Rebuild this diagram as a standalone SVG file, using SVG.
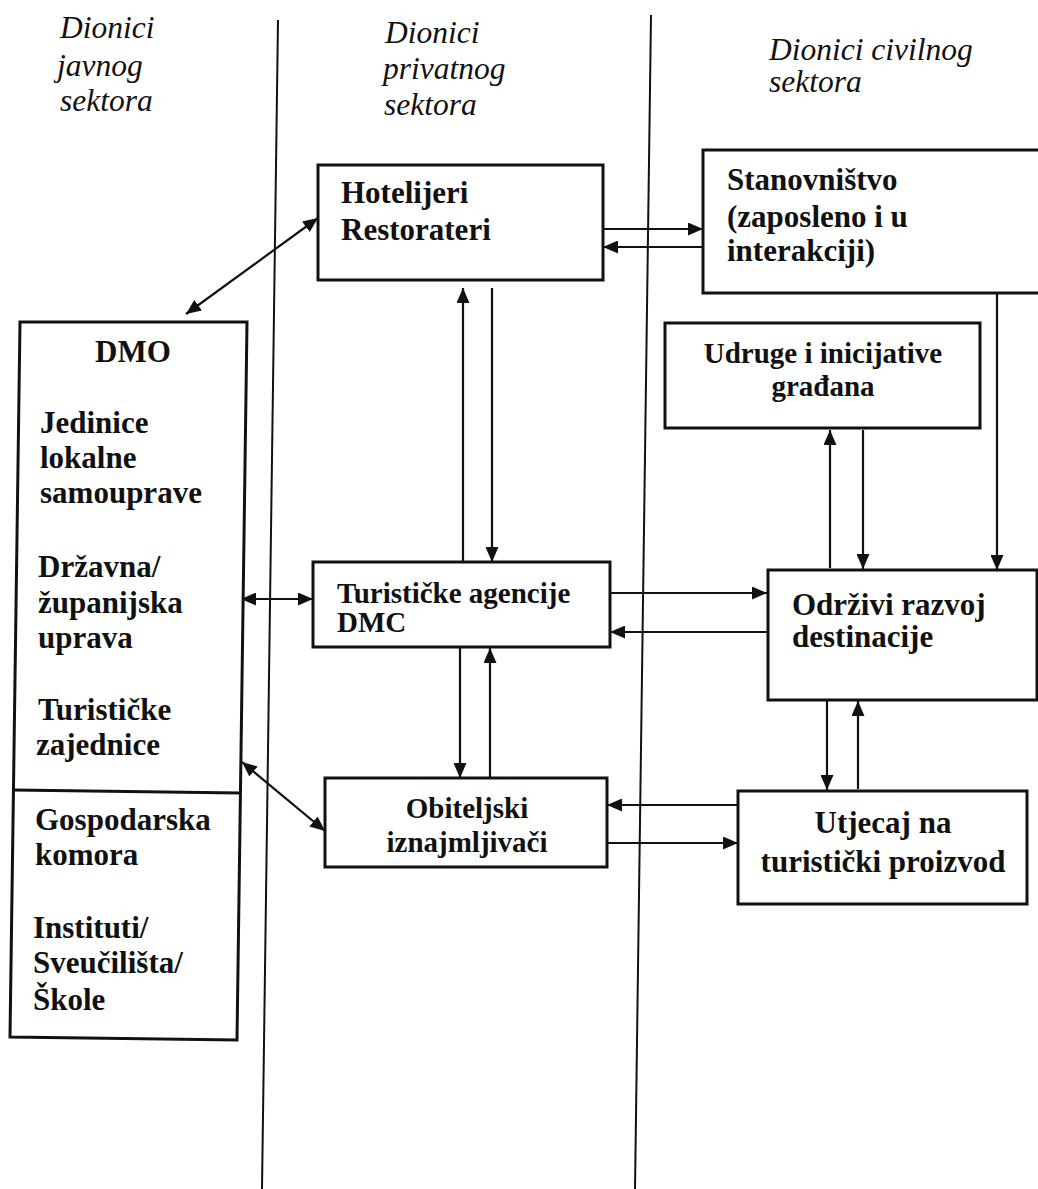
<svg xmlns="http://www.w3.org/2000/svg" width="1038" height="1189" viewBox="0 0 1038 1189">
<style>
.bg{fill:#fff}
.box{fill:#fff;stroke:#111;stroke-width:3}
.div{stroke:#111;stroke-width:2;fill:none}
.con{stroke:#111;stroke-width:2.2;fill:none}
.hdr{font-family:"Liberation Serif","Times New Roman",serif;font-style:italic;font-size:31.5px;fill:#111}
.t{font-family:"Liberation Serif","Times New Roman",serif;font-weight:bold;font-size:31px;fill:#111}
.s{font-size:29px}
.tc{text-anchor:middle}
</style>
<defs>
<marker id="ah" viewBox="0 0 15 13" refX="15" refY="6.5" markerWidth="15" markerHeight="13" markerUnits="userSpaceOnUse" orient="auto-start-reverse">
<path d="M0,0 L15,6.5 L0,13 z" fill="#111"/>
</marker>
</defs>
<rect class="bg" x="0" y="0" width="1038" height="1189"/>
<g id="dividers">
<line class="div" x1="278" y1="20" x2="262" y2="1189"/>
<line class="div" x1="651" y1="15" x2="635" y2="1189"/>
</g>
<g id="headers">
<text class="hdr" x="60" y="38">Dionici</text>
<text class="hdr" x="57" y="76">javnog</text>
<text class="hdr" x="60" y="111">sektora</text>
<text class="hdr" x="385" y="43">Dionici</text>
<text class="hdr" x="383" y="79">privatnog</text>
<text class="hdr" x="384" y="115">sektora</text>
<text class="hdr" x="769" y="60">Dionici civilnog</text>
<text class="hdr" x="769" y="92">sektora</text>
</g>
<g id="connectors">
<line class="con" x1="318" y1="218" x2="186" y2="314" marker-start="url(#ah)" marker-end="url(#ah)"/>
<line class="con" x1="603" y1="229" x2="703" y2="229" marker-end="url(#ah)"/>
<line class="con" x1="703" y1="247" x2="603" y2="247" marker-end="url(#ah)"/>
<line class="con" x1="463" y1="562" x2="463" y2="288" marker-end="url(#ah)"/>
<line class="con" x1="492" y1="288" x2="492" y2="562" marker-end="url(#ah)"/>
<line class="con" x1="241" y1="599" x2="313" y2="599" marker-start="url(#ah)" marker-end="url(#ah)"/>
<line class="con" x1="460" y1="647" x2="460" y2="778" marker-end="url(#ah)"/>
<line class="con" x1="490" y1="778" x2="490" y2="648" marker-end="url(#ah)"/>
<line class="con" x1="242" y1="762" x2="325" y2="831" marker-start="url(#ah)" marker-end="url(#ah)"/>
<line class="con" x1="610" y1="593" x2="767" y2="593" marker-end="url(#ah)"/>
<line class="con" x1="767" y1="632" x2="610" y2="632" marker-end="url(#ah)"/>
<line class="con" x1="830" y1="568" x2="830" y2="430" marker-end="url(#ah)"/>
<line class="con" x1="863" y1="430" x2="863" y2="569" marker-end="url(#ah)"/>
<line class="con" x1="997" y1="293" x2="997" y2="570" marker-end="url(#ah)"/>
<line class="con" x1="827" y1="700" x2="827" y2="790" marker-end="url(#ah)"/>
<line class="con" x1="858" y1="789" x2="858" y2="701" marker-end="url(#ah)"/>
<line class="con" x1="738" y1="805" x2="607" y2="805" marker-end="url(#ah)"/>
<line class="con" x1="607" y1="843" x2="738" y2="843" marker-end="url(#ah)"/>
</g>
<g id="hotelijeri">
<rect class="box" x="318" y="165" width="285" height="115"/>
<text class="t" x="341" y="203">Hotelijeri</text>
<text class="t" x="341" y="240">Restorateri</text>
</g>
<g id="stanovnistvo">
<rect class="box" x="703" y="150" width="345" height="143"/>
<text class="t" x="727" y="190">Stanovništvo</text>
<text class="t" x="727" y="227">(zaposleno i u</text>
<text class="t" x="727" y="261">interakciji)</text>
</g>
<g id="udruge">
<rect class="box" x="665" y="323" width="315" height="105"/>
<text class="t s tc" x="823" y="363">Udruge i inicijative</text>
<text class="t s tc" x="823" y="396">građana</text>
</g>
<g id="dmo">
<polygon class="box" points="20,322 247,322 237,1040 10,1037"/>
<line class="box" x1="14" y1="790" x2="240" y2="793"/>
<text class="t tc" x="133" y="362">DMO</text>
<text class="t" x="40" y="433">Jedinice</text>
<text class="t" x="40" y="468">lokalne</text>
<text class="t" x="40" y="503">samouprave</text>
<text class="t" x="38" y="577">Državna/</text>
<text class="t" x="38" y="613">županijska</text>
<text class="t" x="38" y="648">uprava</text>
<text class="t" x="38" y="720">Turističke</text>
<text class="t" x="36" y="755">zajednice</text>
<text class="t" x="35" y="830">Gospodarska</text>
<text class="t" x="35" y="865">komora</text>
<text class="t" x="33" y="938">Instituti/</text>
<text class="t" x="33" y="973">Sveučilišta/</text>
<text class="t" x="33" y="1010">Škole</text>
</g>
<g id="turisticke">
<rect class="box" x="313" y="562" width="297" height="85"/>
<text class="t s" x="337" y="603">Turističke agencije</text>
<text class="t s" x="337" y="632">DMC</text>
</g>
<g id="odrzivi">
<rect class="box" x="768" y="570" width="269" height="130"/>
<text class="t" x="792" y="615">Održivi razvoj</text>
<text class="t" x="792" y="647">destinacije</text>
</g>
<g id="obiteljski">
<rect class="box" x="325" y="778" width="282" height="89"/>
<text class="t s tc" x="467" y="818">Obiteljski</text>
<text class="t s tc" x="467" y="852">iznajmljivači</text>
</g>
<g id="utjecaj">
<rect class="box" x="738" y="791" width="289" height="113"/>
<text class="t tc" x="883" y="833">Utjecaj na</text>
<text class="t tc" x="883" y="872">turistički proizvod</text>
</g>
</svg>
